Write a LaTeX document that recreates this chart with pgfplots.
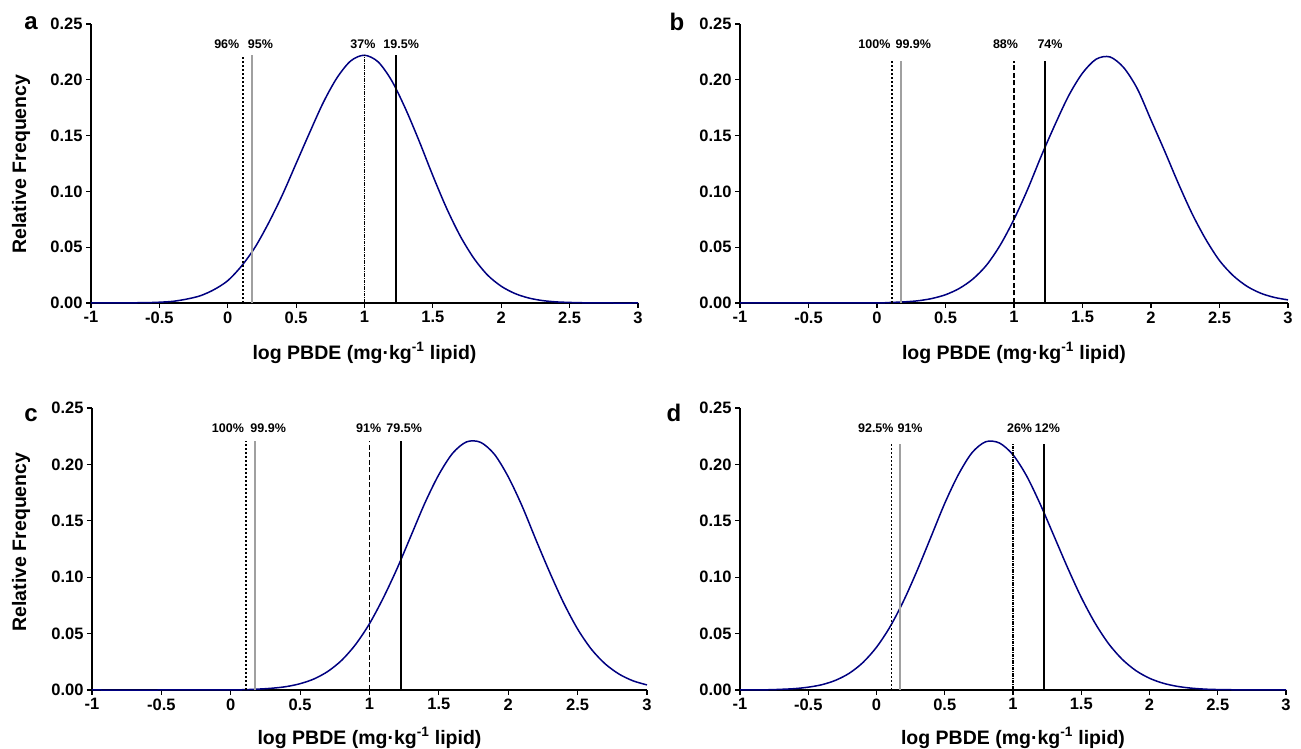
\documentclass[border=0pt]{standalone}
\usepackage{fontspec}
\setmainfont{Liberation Sans}
\usepackage{pgfplots}
\usepackage{pgfplotstable}
\pgfplotsset{compat=1.18}
\definecolor{navycurve}{RGB}{0,0,128}
\definecolor{thrgray}{RGB}{160,160,160}

% curve data
\pgfplotstableread{
x y
-1.0 0
-0.8 0.0001
-0.6 0.0003
-0.5 0.0007
-0.4 0.0015
-0.3 0.0035
-0.2 0.0065
-0.1 0.012
0.0 0.020
0.1 0.033
0.2 0.050
0.3 0.072
0.4 0.097
0.5 0.125
0.6 0.153
0.7 0.180
0.8 0.202
0.9 0.217
1.0 0.222
1.1 0.216
1.2 0.199
1.3 0.174
1.4 0.145
1.5 0.114
1.6 0.085
1.7 0.060
1.8 0.040
1.9 0.025
2.0 0.015
2.1 0.0085
2.2 0.0045
2.3 0.0022
2.4 0.0010
2.5 0.0005
2.6 0.0002
2.8 0
3.0 0
}\dataa

\pgfplotstableread{
x y
-1.0 0
-0.5 0
0.0 0.0001
0.1 0.0005
0.2 0.001
0.3 0.002
0.4 0.004
0.5 0.0074
0.6 0.013
0.7 0.0215
0.8 0.034
0.9 0.052
1.0 0.075
1.1 0.102
1.2 0.132
1.3 0.160
1.4 0.186
1.5 0.206
1.6 0.2185
1.7 0.2205
1.8 0.211
1.9 0.192
2.0 0.164
2.1 0.136
2.2 0.107
2.3 0.080
2.4 0.057
2.5 0.038
2.6 0.0245
2.7 0.015
2.8 0.0088
2.9 0.005
3.0 0.0028
}\datab

\pgfplotstableread{
x y
-1.0 0
-0.5 0
0.0 0.0001
0.1 0.0003
0.2 0.0008
0.3 0.0016
0.4 0.0030
0.5 0.0056
0.6 0.0098
0.7 0.0165
0.8 0.0264
0.9 0.0404
1.0 0.0588
1.1 0.0818
1.2 0.108
1.3 0.137
1.4 0.166
1.5 0.191
1.6 0.210
1.7 0.220
1.8 0.2196
1.9 0.209
2.0 0.189
2.1 0.163
2.2 0.133
2.3 0.104
2.4 0.077
2.5 0.054
2.6 0.036
2.7 0.023
2.8 0.014
2.9 0.0081
3.0 0.0045
}\datac

\pgfplotstableread{
x y
-1.0 0
-0.8 0.0002
-0.7 0.0006
-0.6 0.0012
-0.5 0.0025
-0.4 0.0047
-0.3 0.0086
-0.2 0.0148
-0.1 0.0243
0.0 0.0379
0.1 0.0562
0.2 0.0794
0.3 0.1066
0.4 0.136
0.5 0.1655
0.6 0.191
0.7 0.2104
0.8 0.2201
0.9 0.219
1.0 0.2085
1.1 0.1897
1.2 0.1646
1.3 0.1366
1.4 0.1084
1.5 0.0821
1.6 0.0595
1.7 0.0411
1.8 0.0272
1.9 0.0172
2.0 0.0104
2.1 0.006
2.2 0.0033
2.3 0.0017
2.4 0.0008
2.5 0.0004
2.7 0.0001
3.0 0
}\datad

\pgfplotsset{
  pbde/.style={
    scale only axis, clip=false,
    xmin=-1, xmax=3, ymin=0, ymax=0.25,
    axis x line=bottom, axis y line=left,
    axis line style={-, line width=1.1pt, black},
    tick align=outside, major tick length=5pt,
    tick style={black, line width=1.1pt},
    xtick={-1,-0.5,0,0.5,1,1.5,2,2.5,3},
    xticklabels={\raisebox{-6pt}{-1},-0.5,0,0.5,1,1.5,2,2.5,3},
    ytick={0,0.05,0.1,0.15,0.2,0.25},
    yticklabels={0.00,0.05,0.10,0.15,0.20,0.25},
    tick label style={font=\fontsize{16.5}{19}\selectfont\bfseries},
    xlabel={log PBDE (mg·kg\textsuperscript{-1} lipid)},
    xlabel style={font=\fontsize{19.5}{23}\selectfont\bfseries,
      at={(rel axis cs:0.5,0)}, anchor=center, yshift=-50pt},
  },
  curve/.style={draw=navycurve, line width=1.5pt, smooth, no markers},
  ldot/.style={black, line width=1.7pt, dash pattern=on 1.6pt off 2.4pt},
  lgray/.style={draw=thrgray, line width=2.2pt},
  ldash/.style={black, line width=1.3pt, dash pattern=on 5pt off 2.5pt},
  ldashdot/.style={black, line width=1.5pt, dash pattern=on 3.5pt off 1pt on 1pt off 1pt},
  lsolid/.style={black, line width=2.2pt},
}
\tikzset{
  pct/.style={font=\fontsize{12.5}{15}\selectfont\bfseries, inner sep=0pt, anchor=center},
  plet/.style={font=\fontsize{24}{28}\selectfont\bfseries, anchor=base},
  ylab/.style={font=\fontsize{19.5}{23}\selectfont\bfseries, rotate=90, anchor=center},
}

\begin{document}
\begin{tikzpicture}[x=1pt,y=1pt]
\useasboundingbox (0,0) rectangle (1301,749);

% panel a
\begin{axis}[pbde, at={(91pt,446pt)}, anchor=south west, width=547pt, height=279pt]
\addplot[curve] table {\dataa};
\addplot[ldot] coordinates {(0.11,0) (0.11,0.222)};
\addplot[lgray] coordinates {(0.175,0) (0.175,0.222)};
\addplot[ldashdot] coordinates {(1.0,0) (1.0,0.222)};
\addplot[lsolid] coordinates {(1.228,0) (1.228,0.222)};
\node[pct] at (axis cs:-0.007,0.2315) {96\%};
\node[pct] at (axis cs:0.239,0.2315) {95\%};
\node[pct] at (axis cs:0.989,0.2315) {37\%};
\node[pct] at (axis cs:1.268,0.2315) {19.5\%};
\end{axis}

% panel b
\begin{axis}[pbde, at={(740pt,446pt)}, anchor=south west, width=548pt, height=279pt]
\addplot[curve] table {\datab};
\addplot[ldot] coordinates {(0.11,0) (0.11,0.2167)};
\addplot[lgray] coordinates {(0.175,0) (0.175,0.2167)};
\addplot[ldash] coordinates {(1.0,0) (1.0,0.2167)};
\addplot[lsolid] coordinates {(1.228,0) (1.228,0.2167)};
\node[pct] at (axis cs:-0.019,0.2315) {100\%};
\node[pct] at (axis cs:0.265,0.2315) {99.9\%};
\node[pct] at (axis cs:0.938,0.2315) {88\%};
\node[pct] at (axis cs:1.263,0.2315) {74\%};
\end{axis}

% panel c
\begin{axis}[pbde, at={(92pt,59pt)}, anchor=south west, width=555pt, height=282pt,
  xlabel style={yshift=2pt}]
\addplot[curve] table {\datac};
\addplot[ldot] coordinates {(0.11,0) (0.11,0.2205)};
\addplot[lgray] coordinates {(0.175,0) (0.175,0.2205)};
\addplot[ldash] coordinates {(1.0,0) (1.0,0.2205)};
\addplot[lsolid] coordinates {(1.228,0) (1.228,0.2205)};
\node[pct] at (axis cs:-0.02,0.232) {100\%};
\node[pct] at (axis cs:0.27,0.232) {99.9\%};
\node[pct] at (axis cs:0.994,0.232) {91\%};
\node[pct] at (axis cs:1.25,0.232) {79.5\%};
\end{axis}

% panel d
\begin{axis}[pbde, at={(740pt,59pt)}, anchor=south west, width=546pt, height=282pt,
  xlabel style={yshift=2pt}]
\addplot[curve] table {\datad};
\addplot[ldot] coordinates {(0.11,0) (0.11,0.218)};
\addplot[lgray] coordinates {(0.175,0) (0.175,0.218)};
\addplot[ldashdot] coordinates {(1.0,0) (1.0,0.218)};
\addplot[lsolid] coordinates {(1.228,0) (1.228,0.218)};
\node[pct] at (axis cs:-0.005,0.2318) {92.5\%};
\node[pct] at (axis cs:0.246,0.2318) {91\%};
\node[pct] at (axis cs:1.048,0.2318) {26\%};
\node[pct] at (axis cs:1.252,0.2318) {12\%};
\end{axis}

% panel letters and y labels
\node[plet] at (31,719) {a};
\node[plet] at (677,718) {b};
\node[plet] at (31,327) {c};
\node[plet] at (674,327) {d};
\node[ylab] at (21,585) {Relative Frequency};
\node[ylab] at (21,207) {Relative Frequency};
\end{tikzpicture}
\end{document}
